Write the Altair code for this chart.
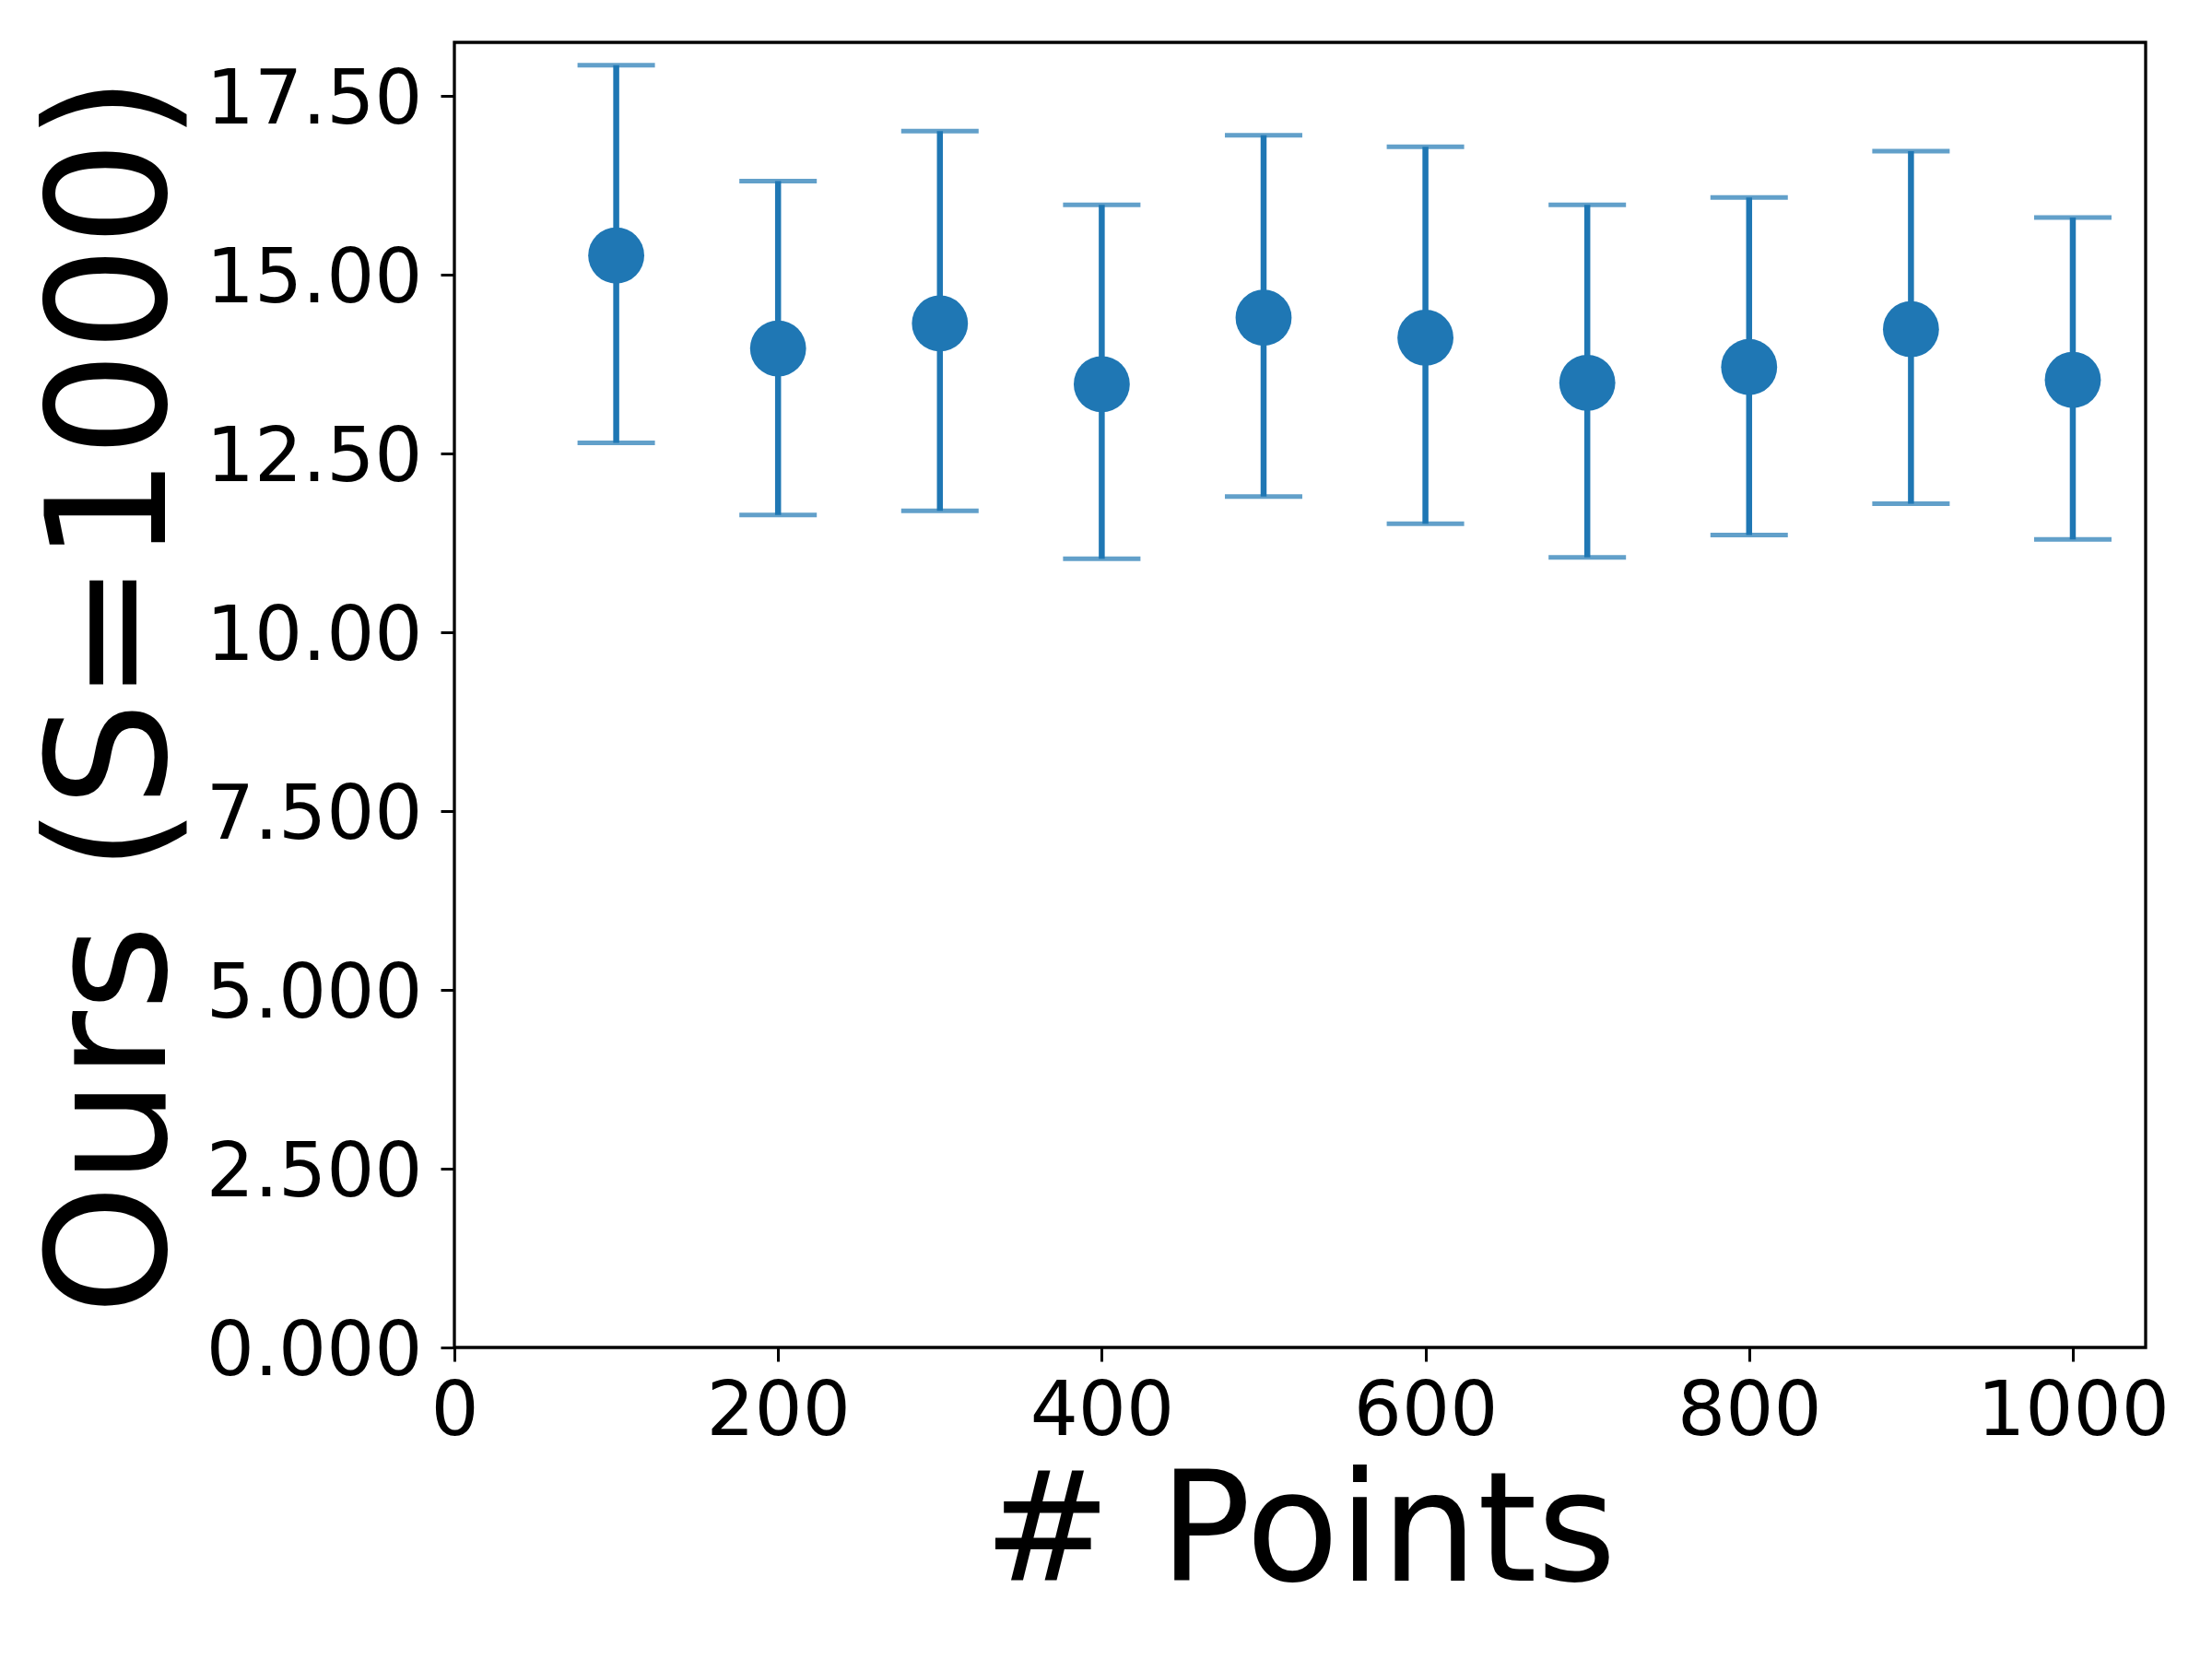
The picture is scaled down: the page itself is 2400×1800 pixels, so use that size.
import altair as alt
import pandas as pd

points = [100, 200, 300, 400, 500, 600, 700, 800, 900, 1000]
means = [15.27, 13.97, 14.32, 13.47, 14.40, 14.12, 13.49, 13.71, 14.24, 13.53]
lows = [12.65, 11.64, 11.70, 11.03, 11.90, 11.52, 11.05, 11.36, 11.80, 11.30]
highs = [17.93, 16.31, 17.01, 15.98, 16.95, 16.79, 15.98, 16.08, 16.73, 15.80]

df = pd.DataFrame({"points": points, "mean": means, "low": lows, "high": highs})

COLOR = "#1f77b4"
FONT = "DejaVu Sans"

xs = alt.X("points:Q",
           scale=alt.Scale(domain=[0, 1045], nice=False, zero=False),
           axis=alt.Axis(title="# Points", values=[0, 200, 400, 600, 800, 1000],
                         format="d", labelLimit=0, labelOverlap=False,
                         labelFontSize=82, titleFontSize=165, tickSize=15, tickWidth=3,
                         labelPadding=14, titleX=917, titleY=252,
                         titleBaseline="alphabetic", titleAlign="center",
                         titleFontWeight="normal", labelFlush=False, grid=False,
                         domain=False, labelColor="black", titleColor="black",
                         tickColor="black", labelFont=FONT, titleFont=FONT))
ys = alt.Y("mean:Q",
           scale=alt.Scale(domain=[0, 18.25], nice=False, zero=False),
           axis=alt.Axis(title="Ours (S=1000)",
                         values=[0, 2.5, 5, 7.5, 10, 12.5, 15, 17.5],
                         labelExpr="format(datum.value, '.4g')",
                         labelLimit=0, labelOverlap=False, labelOffset=4,
                         labelFontSize=82, titleFontSize=180, tickSize=15, tickWidth=3,
                         labelPadding=20, titleX=-315, titleY=708, titleAngle=-90,
                         titleBaseline="alphabetic", titleAlign="center",
                         titleFontWeight="normal", labelFlush=False, grid=False,
                         domain=False, labelColor="black", titleColor="black",
                         tickColor="black", labelFont=FONT, titleFont=FONT))

base = alt.Chart(df)

bars = base.mark_rule(color=COLOR, strokeWidth=6.5).encode(
    x=xs, y=alt.Y("low:Q"), y2="high:Q")
cap_lo = base.mark_tick(color=COLOR, orient="horizontal", size=84, thickness=5).encode(
    x="points:Q", y="low:Q")
cap_hi = base.mark_tick(color=COLOR, orient="horizontal", size=84, thickness=5).encode(
    x="points:Q", y="high:Q")
dots = base.mark_circle(color=COLOR, opacity=1, size=3700).encode(x="points:Q", y=ys)

chart = alt.layer(bars, cap_lo, cap_hi, dots).properties(
    width=1835, height=1416,
    autosize=alt.AutoSizeParams(type="none"),
    padding={"left": 485, "top": 38, "right": 50, "bottom": 300},
    background="white",
).configure_view(stroke="black", strokeWidth=3.3)

chart.save("out.html", embed_options={"renderer": "svg", "actions": False})
